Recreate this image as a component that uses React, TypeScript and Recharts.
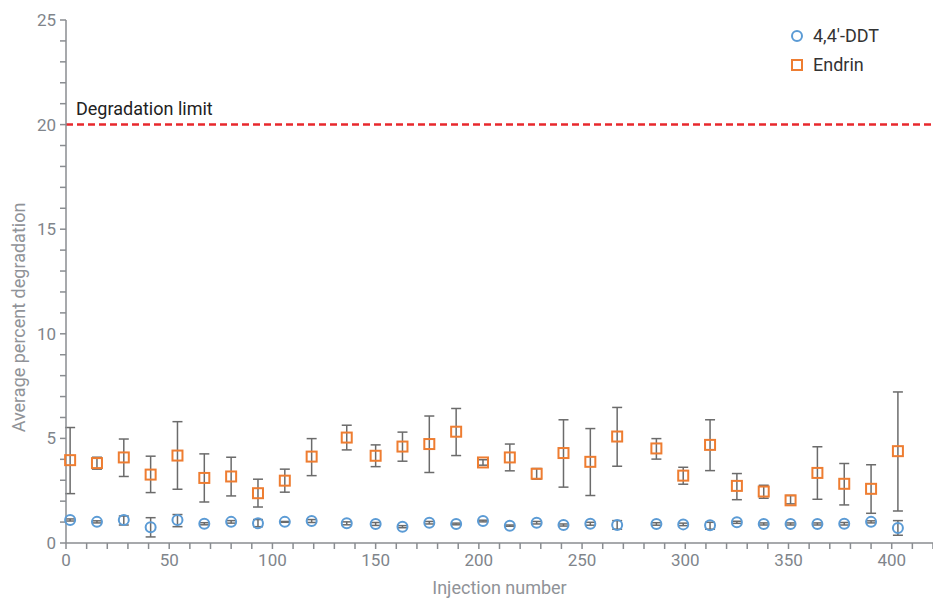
import React from 'react';
import {
  ScatterChart,
  Scatter,
  XAxis,
  YAxis,
  ErrorBar,
  ReferenceLine,
  Legend,
} from 'recharts';

const injections = [2, 15, 28, 41, 54, 67, 80, 93, 106, 119, 136, 150, 163, 176, 189, 202, 215, 228, 241, 254, 267, 286, 299, 312, 325, 338, 351, 364, 377, 390, 403];

const ddtMean = [1.10, 1.01, 1.10, 0.75, 1.10, 0.92, 1.01, 0.94, 1.01, 1.05, 0.94, 0.91, 0.78, 0.97, 0.91, 1.05, 0.83, 0.97, 0.86, 0.92, 0.86, 0.91, 0.89, 0.85, 0.99, 0.91, 0.91, 0.91, 0.92, 1.01, 0.72];
const ddtLow = [1.05, 0.96, 0.86, 0.29, 0.78, 0.87, 0.95, 0.78, 0.99, 0.98, 0.87, 0.84, 0.73, 0.91, 0.87, 1.01, 0.80, 0.91, 0.81, 0.85, 0.66, 0.85, 0.83, 0.66, 0.94, 0.86, 0.86, 0.86, 0.86, 0.96, 0.37];
const ddtHigh = [1.15, 1.06, 1.29, 1.21, 1.36, 0.97, 1.07, 1.12, 1.03, 1.12, 1.01, 0.98, 0.83, 1.03, 0.95, 1.09, 0.86, 1.03, 0.91, 0.99, 1.07, 0.97, 0.95, 0.99, 1.04, 0.96, 0.96, 0.96, 0.98, 1.06, 1.07];

const endrinMean = [3.96, 3.82, 4.09, 3.27, 4.18, 3.11, 3.18, 2.38, 2.98, 4.13, 5.04, 4.17, 4.61, 4.73, 5.32, 3.85, 4.09, 3.31, 4.30, 3.88, 5.09, 4.52, 3.22, 4.69, 2.73, 2.46, 2.04, 3.35, 2.83, 2.59, 4.39];
const endrinLow = [2.36, 3.53, 3.18, 2.41, 2.57, 1.96, 2.25, 1.72, 2.43, 3.22, 4.45, 3.65, 3.91, 3.37, 4.18, 3.72, 3.45, 3.05, 2.67, 2.27, 3.67, 4.01, 2.81, 3.46, 2.07, 2.14, 1.87, 2.09, 1.82, 1.42, 1.53];
const endrinHigh = [5.52, 4.10, 4.97, 4.15, 5.80, 4.26, 4.10, 3.05, 3.53, 4.99, 5.63, 4.69, 5.30, 6.07, 6.43, 3.98, 4.73, 3.56, 5.89, 5.47, 6.48, 4.99, 3.62, 5.89, 3.32, 2.76, 2.27, 4.60, 3.80, 3.74, 7.22];

const xTicks = [0, 10, 20, 30, 40, 50, 60, 70, 80, 90, 100, 110, 120, 130, 140, 150, 160, 170, 180, 190, 200, 210, 220, 230, 240, 250, 260, 270, 280, 290, 300, 310, 320, 330, 340, 350, 360, 370, 380, 390, 400, 410, 420];
const yTicks = [0, 1, 2, 3, 4, 5, 6, 7, 8, 9, 10, 11, 12, 13, 14, 15, 16, 17, 18, 19, 20, 21, 22, 23, 24, 25];

const degradationLimit = 20;

const BLUE = '#5b9bd5';
const ORANGE = '#ee7d31';
const AXIS = '#8a8d91';

const toPoints = (mean: number[], low: number[], high: number[]) =>
  injections.map((x, i) => ({
    x,
    y: mean[i],
    err: [+(mean[i] - low[i]).toFixed(3), +(high[i] - mean[i]).toFixed(3)],
  }));

const ddtData = toPoints(ddtMean, ddtLow, ddtHigh);
const endrinData = toPoints(endrinMean, endrinLow, endrinHigh);

const Circle = (props: any) => (
  <circle cx={props.cx} cy={props.cy} r={5} fill="none" stroke={BLUE} strokeWidth={2} />
);

const Square = (props: any) => (
  <rect x={props.cx - 5} y={props.cy - 5} width={10} height={10} fill="none" stroke={ORANGE} strokeWidth={2} />
);

// zero-height wrapper so the legend doesn't push the plot area down
const renderLegend = () => (
  <div style={{ position: 'relative', height: 0 }}>
    <div style={{ position: 'absolute', left: 790, top: 21, fontSize: 18, color: '#333', lineHeight: '29px' }}>
      <div style={{ display: 'flex', alignItems: 'center' }}>
        <svg width={16} height={16} style={{ marginRight: 7 }}>
          <circle cx={7} cy={8} r={5} fill="none" stroke={BLUE} strokeWidth={2} />
        </svg>
        4,4'-DDT
      </div>
      <div style={{ display: 'flex', alignItems: 'center' }}>
        <svg width={16} height={16} style={{ marginRight: 7 }}>
          <rect x={2} y={3} width={10} height={10} fill="none" stroke={ORANGE} strokeWidth={2} />
        </svg>
        Endrin
      </div>
    </div>
  </div>
);

const App = () => {
  return (
    <div style={{ position: 'absolute', left: 0, top: 0, fontFamily: 'Roboto, sans-serif' }}>
      <ScatterChart width={933} height={598} margin={{ top: 20, right: 0, bottom: 0, left: 0 }}>
        <XAxis
          type="number"
          dataKey="x"
          domain={[0, 420]}
          ticks={xTicks}
          interval={0}
          tickFormatter={(v: number) => (v % 50 === 0 && v <= 400 ? String(v) : '')}
          stroke={AXIS}
          strokeWidth={1.5}
          tickSize={6}
          tickMargin={5}
          tick={{ fontSize: 17, fill: '#80858b' }}
          height={55}
          label={{ value: 'Injection number', position: 'insideBottom', offset: 4, fontSize: 18, fill: '#909398' }}
        />
        <YAxis
          type="number"
          dataKey="y"
          domain={[0, 25]}
          ticks={yTicks}
          interval={0}
          tickFormatter={(v: number) => (v % 5 === 0 ? String(v) : '')}
          stroke={AXIS}
          strokeWidth={1.5}
          tickSize={6}
          tickMargin={4}
          tick={{ fontSize: 17, fill: '#80858b' }}
          width={66}
          label={{ value: 'Average percent degradation', angle: -90, position: 'center', dx: -14, dy: 36, fontSize: 18, fill: '#909398' }}
        />
        <ReferenceLine
          y={degradationLimit}
          stroke="#e8282d"
          strokeWidth={2.5}
          strokeDasharray="7 4"
          label={{ value: 'Degradation limit', position: 'insideBottomLeft', offset: 10, fontSize: 18, fill: '#222' }}
        />
        <Legend verticalAlign="top" wrapperStyle={{ top: 0, left: 0, width: 933 }} content={renderLegend} />
        <Scatter name="4,4'-DDT" data={ddtData} shape={Circle} isAnimationActive={false}>
          <ErrorBar dataKey="err" direction="y" width={5} stroke="#6b6b6b" strokeWidth={1.5} />
        </Scatter>
        <Scatter name="Endrin" data={endrinData} shape={Square} isAnimationActive={false}>
          <ErrorBar dataKey="err" direction="y" width={5} stroke="#6b6b6b" strokeWidth={1.5} />
        </Scatter>
      </ScatterChart>
    </div>
  );
};

export default App;
